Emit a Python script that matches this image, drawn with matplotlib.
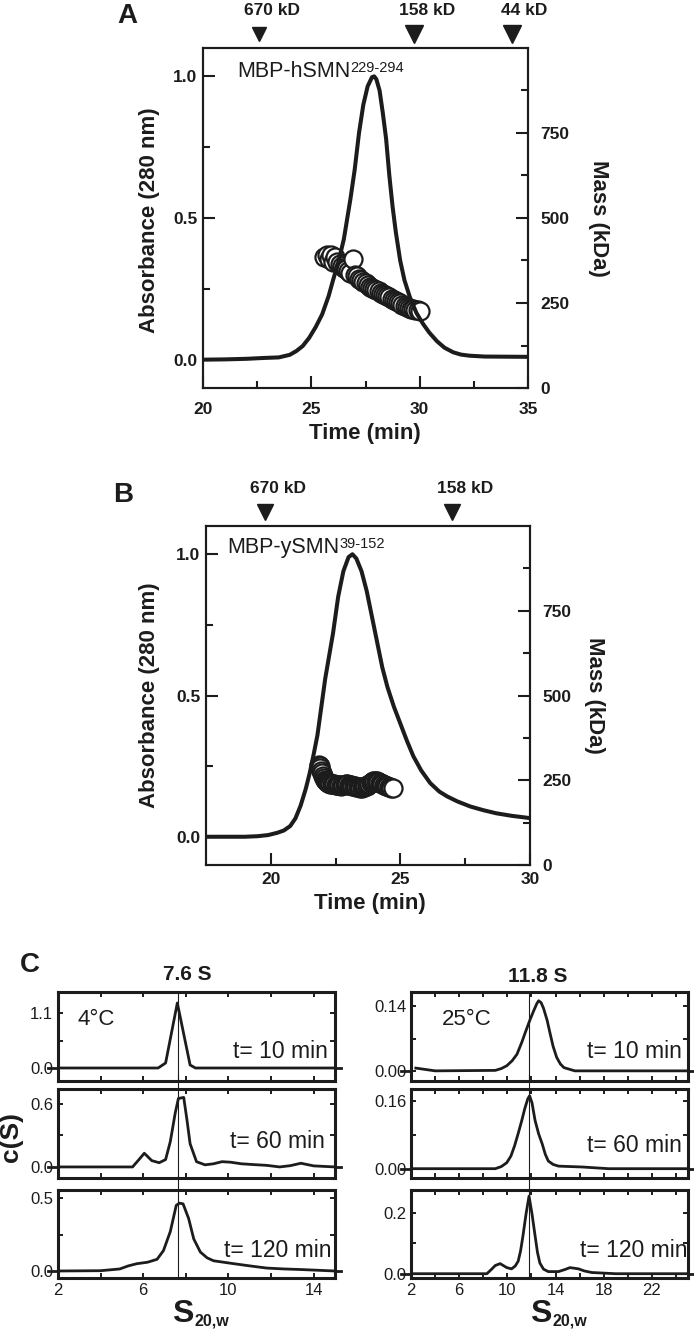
import matplotlib
matplotlib.use("Agg")
import matplotlib.pyplot as plt

plt.rcParams['font.family'] = ['Liberation Sans', 'DejaVu Sans']

INK = '#1c1c1c'
W, H = 694, 1329

# ---- panel A : SEC-MALS of MBP-hSMN(229-294)
a_time = [20, 21, 22, 22.8, 23.5, 24.0, 24.3, 24.6, 24.9, 25.2, 25.5, 25.8, 26.0, 26.25, 26.5,
          26.8, 27.0, 27.2, 27.4, 27.6, 27.8, 27.9, 28.0, 28.15, 28.3, 28.45, 28.6, 28.75,
          28.9, 29.1, 29.3, 29.55, 29.85, 30.15, 30.45, 30.8, 31.15, 31.55, 31.9, 32.3, 33,
          35]
a_abs = [0, 0.001, 0.003, 0.006, 0.008, 0.017, 0.03, 0.048, 0.077, 0.115, 0.16, 0.225, 0.28,
         0.345, 0.425, 0.565, 0.67, 0.8, 0.9, 0.965, 0.997, 1.0, 0.99, 0.95, 0.87, 0.78, 0.65,
         0.54, 0.45, 0.35, 0.28, 0.22, 0.165, 0.127, 0.095, 0.065, 0.042, 0.026, 0.018, 0.014,
         0.011, 0.01]
a_mass_time = [25.6, 25.7, 25.8, 25.9, 26.0, 26.1, 26.2, 26.3, 26.4, 26.5, 26.6, 26.7, 26.8,
               26.9, 27.0, 27.1, 27.2, 27.3, 27.4, 27.5, 27.6, 27.7, 27.8, 27.9, 28.0, 28.1,
               28.2, 28.3, 28.4, 28.5, 28.6, 28.7, 28.8, 28.9, 29.0, 29.1, 29.2, 29.3, 29.4,
               29.5, 29.6, 29.7, 29.8, 29.9, 30.0]
a_mass = [385, 392, 378, 390, 372, 386, 372, 366, 360, 354, 349, 344, 339, 380, 332, 328, 322,
          318, 312, 308, 304, 298, 295, 291, 288, 284, 280, 277, 273, 270, 267, 263, 260, 256,
          252, 249, 245, 242, 238, 236, 233, 231, 229, 228, 227]
a_std_pos = [22.6, 29.75, 34.25]
a_std_lbl = ['670 kD', '158 kD', '44 kD']

# ---- panel B : SEC-MALS of MBP-ySMN(39-152)
b_time = [17.5, 19.0, 19.5, 19.9, 20.25, 20.5, 20.75, 20.95, 21.15, 21.35, 21.5, 21.65, 21.8,
          21.95, 22.1, 22.25, 22.4, 22.6, 22.8, 23.0, 23.15, 23.3, 23.5, 23.7, 23.9, 24.1,
          24.3, 24.5, 24.75, 25.0, 25.25, 25.5, 25.8, 26.15, 26.5, 26.8, 27.2, 27.7, 28.2,
          28.7, 29.3, 30.0]
b_abs = [0, 0.0, 0.002, 0.006, 0.014, 0.022, 0.038, 0.065, 0.11, 0.17, 0.225, 0.29, 0.36,
         0.46, 0.56, 0.64, 0.72, 0.85, 0.94, 0.99, 1.0, 0.985, 0.94, 0.87, 0.78, 0.69, 0.6,
         0.53, 0.46, 0.4, 0.34, 0.285, 0.235, 0.19, 0.16, 0.143, 0.125, 0.107, 0.094, 0.083,
         0.074, 0.066]
b_mass_time = [21.85, 21.88, 21.91, 21.94, 21.97, 22.0, 22.04, 22.08, 22.12, 22.16, 22.2,
               22.25, 22.3, 22.35, 22.4, 22.45, 22.5, 22.55, 22.6, 22.65, 22.7, 22.75, 22.8,
               22.85, 22.9, 22.95, 23.0, 23.05, 23.1, 23.15, 23.2, 23.25, 23.3, 23.35, 23.4,
               23.45, 23.5, 23.55, 23.6, 23.65, 23.7, 23.75, 23.8, 23.85, 23.9, 23.95, 24.0,
               24.05, 24.1, 24.15, 24.2, 24.25, 24.3, 24.35, 24.4, 24.45, 24.5, 24.55, 24.6,
               24.65, 24.7]
b_mass = [296, 291, 285, 278, 270, 263, 257, 252, 248, 245, 243, 241, 240, 239, 238, 238, 237,
          236, 236, 235, 234, 235, 236, 237, 238, 238, 237, 236, 235, 234, 233, 232, 231, 230,
          229, 228, 228, 229, 230, 232, 234, 237, 240, 243, 246, 248, 249, 248, 247, 245, 243,
          241, 239, 237, 236, 234, 233, 231, 230, 228, 226]
b_std_pos = [19.78, 27.0]
b_std_lbl = ['670 kD', '158 kD']

# ---- panel C : c(S) distributions
s_low_x = [[2, 6.7, 7.05, 7.6, 8.2, 8.45, 15],
           [2, 5.5, 5.8, 6.05, 6.4, 6.75, 7.05, 7.27, 7.5, 7.65, 7.9, 8.05, 8.2, 8.5, 8.9, 9.3,
            9.7, 10.1, 10.6, 11.2, 11.8, 12.4, 12.9, 13.4, 14.0, 15],
           [2, 4, 4.9, 5.3, 5.7, 6.2, 6.65, 6.95, 7.27, 7.55, 7.7, 7.87, 8.13, 8.37, 8.68, 9.0,
            9.3, 10.25, 11.0, 11.8, 12.6, 13.4, 15]]
s_low_y = [[0, 0, 0.1, 1.3, 0.06, 0, 0],
           [0, 0, 0.07, 0.13, 0.06, 0.04, 0.07, 0.24, 0.51, 0.65, 0.66, 0.45, 0.22, 0.05, 0.02,
            0.03, 0.05, 0.045, 0.03, 0.022, 0.015, 0.0, 0.012, 0.035, 0.01, 0.0],
           [0, 0.002, 0.014, 0.035, 0.05, 0.06, 0.08, 0.14, 0.27, 0.45, 0.465, 0.46, 0.36,
            0.22, 0.13, 0.09, 0.07, 0.05, 0.035, 0.02, 0.014, 0.01, 0]]
s_high_x = [[2.4, 4.0, 9.0, 9.5, 9.95, 10.4, 10.8, 11.2, 11.5, 11.9, 12.2, 12.45, 12.6, 12.8,
             13.0, 13.3, 13.55, 13.8, 14.1, 14.4, 14.7, 15.6, 25],
            [2, 9.0, 9.5, 9.95, 10.3, 10.6, 10.9, 11.2, 11.45, 11.7, 11.85, 12.05, 12.3, 12.6,
             12.9, 13.15, 13.4, 13.8, 14.25, 15.2, 16.2, 18.4, 25],
            [2, 8.3, 8.7, 9.0, 9.4, 9.95, 10.35, 10.65, 10.9, 11.1, 11.3, 11.55, 11.8, 12.05,
             12.3, 12.5, 12.7, 13.0, 13.4, 14.25, 14.8, 15.2, 15.9, 16.4, 17.0, 19.0, 25]]
s_high_y = [[0.006, 0.0, 0.001, 0.005, 0.011, 0.022, 0.036, 0.062, 0.084, 0.112, 0.131, 0.146,
             0.152, 0.148, 0.136, 0.11, 0.081, 0.053, 0.029, 0.015, 0.007, 0.0, 0.0],
            [0, 0, 0.005, 0.014, 0.03, 0.054, 0.083, 0.114, 0.142, 0.165, 0.172, 0.155, 0.114,
             0.082, 0.058, 0.034, 0.018, 0.01, 0.006, 0.005, 0.004, 0, 0],
            [0, 0, 0.015, 0.027, 0.033, 0.02, 0.016, 0.025, 0.041, 0.075, 0.125, 0.195, 0.254,
             0.195, 0.125, 0.07, 0.035, 0.015, 0.007, 0.007, 0.014, 0.02, 0.016, 0.009, 0.004,
             0, 0]]
s_low_peak, s_high_peak = 7.65, 11.8
time_lbl = ['t= 10 min', 't= 60 min', 't= 120 min']
low_yticks = [[0.0, 1.1], [0.0, 0.6], [0.0, 0.5]]
high_yticks = [[0.00, 0.14], [0.00, 0.16], [0.0, 0.2]]
low_yticklabels = [['0.0', '1.1'], ['0.0', '0.6'], ['0.0', '0.5']]
high_yticklabels = [['0.00', '0.14'], ['0.00', '0.16'], ['0.0', '0.2']]
low_ylim = [(-0.26, 1.52), (-0.105, 0.74), (-0.048, 0.555)]
high_ylim = [(-0.022, 0.171), (-0.022, 0.188), (-0.014, 0.274)]

fig = plt.figure(figsize=(W / 100, H / 100), dpi=100)


def add_ax(l, t, r, b):
    return fig.add_axes([l / W, 1 - b / H, (r - l) / W, (b - t) / H])


def ftext(x, y, s, **kw):
    return fig.text(x / W, 1 - y / H, s, **kw)


def sec_panel(box, xlim, xmaj, xmin, t, a, mt, m, std_pos, std_lbl, std_ms, xpad):
    ax = add_ax(*box)
    ax2 = ax.twinx()
    ax.set_zorder(ax2.get_zorder() + 1)
    ax.patch.set_visible(False)
    ax.plot(t, a, color=INK, lw=2.9, solid_capstyle='round', solid_joinstyle='round')
    ax2.plot(mt, m, 'o', mfc='white', mec=INK, ms=13, mew=1.6)
    ax.set_xlim(*xlim)
    ax.set_ylim(-0.1, 1.1)
    ax2.set_ylim(0, 1000)
    ax.set_xticks(xmaj)
    ax.set_xticks(xmin, minor=True)
    ax.set_yticks([0, 0.5, 1.0])
    ax.set_yticks([0.25, 0.75], minor=True)
    ax.set_yticklabels(['0.0', '0.5', '1.0'])
    ax2.set_yticks([0, 250, 500, 750])
    ax2.set_yticks([125, 375, 625, 875], minor=True)
    for a_ in (ax, ax2):
        a_.tick_params(which='both', direction='in', width=1.5, labelsize=12.5, colors=INK)
        a_.tick_params(which='major', length=8.5)
        a_.tick_params(which='minor', length=5)
        for sp in a_.spines.values():
            sp.set_linewidth(1.5)
            sp.set_color(INK)
    ax.tick_params(axis='x', pad=xpad)
    ax.tick_params(axis='y', pad=4)
    ax2.tick_params(axis='y', pad=9)
    plt.setp(ax.get_xticklabels() + ax.get_yticklabels() + ax2.get_yticklabels(),
             fontweight='bold')
    tr = ax.get_xaxis_transform()
    for p, lbl, ms in zip(std_pos, std_lbl, std_ms):
        ax.plot([p], [1.041], marker='v', ms=ms, color=INK, transform=tr, clip_on=False)
        ax.annotate(lbl, xy=(p, 1.041), xycoords=tr, xytext=(9, 14), textcoords='offset points',
                    ha='center', va='baseline', fontsize=12.5, fontweight='bold', color=INK,
                    annotation_clip=False)
    return ax


# panel A
axA = sec_panel((203, 48, 528, 388), (20, 35), [20, 25, 30, 35], [22.5, 27.5, 32.5],
                a_time, a_abs, a_mass_time, a_mass, a_std_pos, a_std_lbl, [10.5, 13, 13], 10)
ftext(127, 23, 'A', fontsize=20, fontweight='bold', ha='center', va='baseline', color=INK)
tA = ftext(237, 77, 'MBP-hSMN', fontsize=15.5, va='baseline', color=INK)
axA.annotate('229-294', xy=(1, 1), xycoords=tA, fontsize=10.5, va='top', ha='left',
             color=INK, annotation_clip=False)
ftext(149, 220, 'Absorbance (280 nm)', rotation=90, fontsize=16, fontweight='bold',
      ha='center', va='center', color=INK)
ftext(599, 218, 'Mass (kDa)', rotation=-90, fontsize=16, fontweight='bold',
      ha='center', va='center', color=INK)
ftext(365, 439, 'Time (min)', fontsize=16, fontweight='bold', ha='center', va='baseline',
      color=INK)

# panel B
axB = sec_panel((206, 526, 530, 865), (17.5, 30), [20, 25, 30], [22.5, 27.5],
                b_time, b_abs, b_mass_time, b_mass, b_std_pos, b_std_lbl, [12, 12], 5)
ftext(123, 502, 'B', fontsize=20, fontweight='bold', ha='center', va='baseline', color=INK)
tB = ftext(227, 553, 'MBP-ySMN', fontsize=15.5, va='baseline', color=INK)
axB.annotate('39-152', xy=(1, 1), xycoords=tB, fontsize=10.5, va='top', ha='left',
             color=INK, annotation_clip=False)
ftext(150, 695, 'Absorbance (280 nm)', rotation=90, fontsize=16, fontweight='bold',
      ha='center', va='center', color=INK)
ftext(594, 695, 'Mass (kDa)', rotation=-90, fontsize=16, fontweight='bold',
      ha='center', va='center', color=INK)
ftext(370, 909, 'Time (min)', fontsize=16, fontweight='bold', ha='center', va='baseline',
      color=INK)

# panel C
rows = [(992, 1081), (1089, 1178), (1190, 1278)]
cols = [dict(l=58, r=335, xlim=(2, 15), xmaj=[2, 6, 10, 14], xmin=[4, 8, 12],
             xs=s_low_x, ys=s_low_y, peak=s_low_peak, yt=low_yticks, yl=low_ylim,
             ytl=low_yticklabels),
        dict(l=411, r=688, xlim=(2, 25), xmaj=[2, 6, 10, 14, 18, 22],
             xmin=[4, 8, 12, 16, 20, 24],
             xs=s_high_x, ys=s_high_y, peak=s_high_peak, yt=high_yticks, yl=high_ylim,
             ytl=high_yticklabels)]
lbl_right = [[328, 325, 332], [682, 682, 687]]
lbl_base = [[1058, 1148, 1257], [1058, 1152, 1257]]

for ci, c in enumerate(cols):
    for ri, (t0, b0) in enumerate(rows):
        ax = add_ax(c['l'], t0, c['r'], b0)
        ax.plot(c['xs'][ri], c['ys'][ri], color=INK, lw=2.0, solid_joinstyle='round')
        ax.set_xlim(*c['xlim'])
        ax.set_ylim(*c['yl'][ri])
        ax.axvline(c['peak'], ymin=0, ymax=1.0 if ri == 0 else 1.16, color=INK, lw=0.8,
                   clip_on=False)
        ax.axhline(0, xmin=-0.035, xmax=0.0, color=INK, lw=2.0, clip_on=False)
        ax.axhline(0, xmin=1.0, xmax=1.02, color=INK, lw=2.0, clip_on=False)
        yt = c['yt'][ri]
        ax.set_yticks(yt)
        ax.set_yticks([yt[1] / 2], minor=True)
        ax.set_yticklabels(c['ytl'][ri])
        ax.set_xticks(c['xmaj'])
        ax.set_xticks(c['xmin'], minor=True)
        ax.tick_params(which='both', direction='in', top=True, right=True, length=3.5,
                       width=1.4, labelsize=12, colors=INK, pad=3.5)
        if ri < 2:
            ax.tick_params(axis='x', labelbottom=False)
        for sp in ax.spines.values():
            sp.set_linewidth(2.2)
            sp.set_color(INK)
        ftext(lbl_right[ci][ri], lbl_base[ci][ri], time_lbl[ri], fontsize=16.5, ha='right',
              va='baseline', color=INK)

ftext(30, 972, 'C', fontsize=20, fontweight='bold', ha='center', va='baseline', color=INK)
ftext(187, 980, '7.6 S', fontsize=15, fontweight='bold', ha='center', va='baseline', color=INK)
ftext(538, 982, '11.8 S', fontsize=15, fontweight='bold', ha='center', va='baseline',
      color=INK)
ftext(77, 1025, '4°C', fontsize=16, ha='left', va='baseline', color=INK)
ftext(442, 1025, '25°C', fontsize=16, ha='left', va='baseline', color=INK)
ftext(11, 1137, 'c(S)', rotation=90, fontsize=19, fontweight='bold', ha='center',
      va='center', color=INK)
for ax_ref, sx in ((axA, 172), (axA, 530)):
    tS = ftext(sx, 1322, 'S', fontsize=23, fontweight='bold', ha='left', va='baseline',
               color=INK)
    ax_ref.annotate('20,w', xy=(1, 0), xycoords=tS, xytext=(0.5, 0),
                    textcoords='offset points', fontsize=11.5, fontweight='bold', ha='left',
                    va='bottom', color=INK, annotation_clip=False)

fig.savefig('out.png', dpi=100)
